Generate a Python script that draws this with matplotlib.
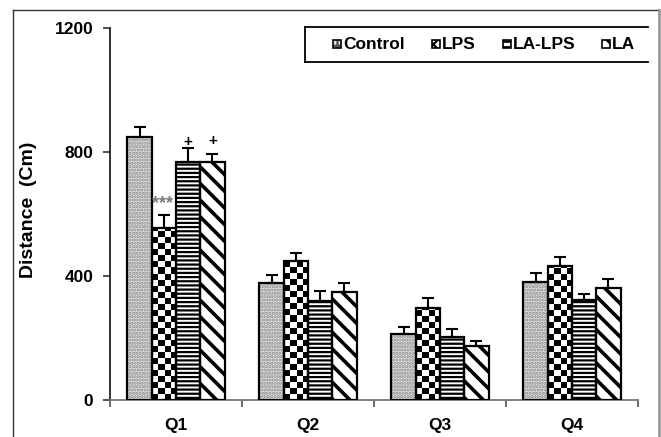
import numpy as np
import matplotlib
matplotlib.use('Agg')
import matplotlib.pyplot as plt
from matplotlib.patches import Rectangle
from matplotlib.lines import Line2D

plt.rcParams['font.family'] = ['Liberation Sans', 'DejaVu Sans']
plt.rcParams['font.weight'] = 'bold'
plt.rcParams['hatch.linewidth'] = 1.6

quarters = ['Q1', 'Q2', 'Q3', 'Q4']
groups = ['Control', 'LPS', 'LA-LPS', 'LA']

control = [848, 376, 212, 382]
lps = [556, 449, 296, 432]
la_lps = [768, 318, 203, 322]
la = [768, 347, 173, 362]

control_err = [32, 28, 23, 28]
lps_err = [40, 26, 32, 30]
la_lps_err = [45, 33, 25, 21]
la_err = [27, 31, 18, 27]

W, H = 661, 437
fig = plt.figure(figsize=(W / 100, H / 100), dpi=100)
fig.patch.set_facecolor('white')

# axes box in pixel terms: x 110..638, y 28..400
ax = fig.add_axes([110 / W, 1 - 400 / H, (638 - 110) / W, (400 - 28) / H])

x = np.arange(len(quarters))
bw = 0.184
offsets = (np.arange(4) - 1.5) * bw

series = [control, lps, la_lps, la]
errors = [control_err, lps_err, la_lps_err, la_err]

# checkerboard used to fill the LPS bars
cells_x, cells_y = 88, 62
checker = (np.add.outer(np.arange(cells_y), np.arange(cells_x)) % 2).astype(float)

for i, (vals, errs) in enumerate(zip(series, errors)):
    xs = x + offsets[i]
    if i == 0:
        ax.bar(xs, vals, bw, color='#e4e4e4', edgecolor='#8a8a8a', hatch='.....',
               linewidth=0, zorder=2)
    elif i == 1:
        bars = ax.bar(xs, vals, bw, color='white', linewidth=0, zorder=2)
        for b in bars:
            im = ax.imshow(checker, cmap='gray', extent=(-0.5, 3.5, 0, 1200),
                           aspect='auto', interpolation='nearest', zorder=2.5)
            im.set_clip_path(b)
    elif i == 2:
        ax.bar(xs, vals, bw, color='white', edgecolor='black', hatch='----',
               linewidth=0, zorder=2)
    else:
        bars = ax.bar(xs, vals, bw, color='white', edgecolor='black', hatch='\\\\',
                      linewidth=0, zorder=2)
        for b in bars:
            b.set_hatch_linewidth(2.6)
    ax.bar(xs, vals, bw, fill=False, edgecolor='black', linewidth=1.6, zorder=3)
    ax.errorbar(xs, vals, yerr=[np.zeros(4), errs], fmt='none', ecolor='black',
                elinewidth=1.5, capsize=4, capthick=1.5, zorder=4)

# significance marks
ax.text(x[0] + offsets[1] - 0.01, 632, '***', ha='center', va='center',
        fontsize=13, color='#777777')
ax.text(x[0] + offsets[2], 833, '+', ha='center', va='center', fontsize=11,
        color='black')
ax.text(x[0] + offsets[3], 837, '+', ha='center', va='center', fontsize=11,
        color='black')

ax.set_xlim(-0.5, 3.5)
ax.set_ylim(0, 1200)
ax.set_yticks([0, 400, 800, 1200])
ax.set_xticks(np.arange(-0.5, 4.0, 1.0))
ax.set_xticklabels([])
ax.set_xticks(x, minor=True)
ax.set_xticklabels(quarters, minor=True)
ax.tick_params(axis='x', which='major', direction='out', length=5, width=1.2,
               color='#555555')
ax.tick_params(axis='x', which='minor', length=0, pad=13, labelsize=12.5)
ax.tick_params(axis='y', direction='out', length=5, width=1.2, color='#333333',
               pad=7, labelsize=12.5)
for side in ['top', 'right']:
    ax.spines[side].set_visible(False)
ax.spines['left'].set_linewidth(1.3)
ax.spines['left'].set_color('#222222')
ax.spines['bottom'].set_linewidth(1.3)
ax.spines['bottom'].set_color('#777777')

ax.set_ylabel('Distance  (Cm)', fontsize=14, fontweight='bold')
ax.yaxis.set_label_coords(-73 / 528, 1 - (210 - 28) / 372)


def fx(px):
    return px / W


def fy(py):
    return 1 - py / H


# legend box (top, bottom and left edges)
for seg in [((305, 648), (27, 27)), ((305, 648), (62, 62)), ((305, 305), (27, 62))]:
    fig.add_artist(Line2D([fx(p) for p in seg[0]], [fy(p) for p in seg[1]],
                          color='black', linewidth=1.3))

legend_items = [
    (333, dict(facecolor='#e4e4e4', edgecolor='#555555', hatch='++')),
    (432, dict(facecolor='white', edgecolor='black', hatch='xxx')),
    (503, dict(facecolor='white', edgecolor='black', hatch='---')),
    (602, dict(facecolor='white', edgecolor='black', hatch='\\\\')),
]
for (px, style), name in zip(legend_items, groups):
    fig.add_artist(Rectangle((fx(px), fy(48)), 8 / W, 8 / H, linewidth=0,
                             transform=fig.transFigure, **style))
    fig.add_artist(Rectangle((fx(px), fy(48)), 8 / W, 8 / H, fill=False,
                             edgecolor='black', linewidth=1.2,
                             transform=fig.transFigure))
    fig.text(fx(px + 10), fy(44.5), name, fontsize=12.5, fontweight='bold',
             ha='left', va='center')

# outer frame
fig.add_artist(Line2D([fx(13), fx(13)], [fy(437), fy(10)], color='#333333', linewidth=1))
fig.add_artist(Line2D([fx(13), fx(659)], [fy(10), fy(10)], color='#333333', linewidth=1))
fig.add_artist(Line2D([fx(659), fx(659)], [fy(10), fy(437)], color='#999999', linewidth=2))

fig.savefig('out.png', dpi=100, facecolor='white')
